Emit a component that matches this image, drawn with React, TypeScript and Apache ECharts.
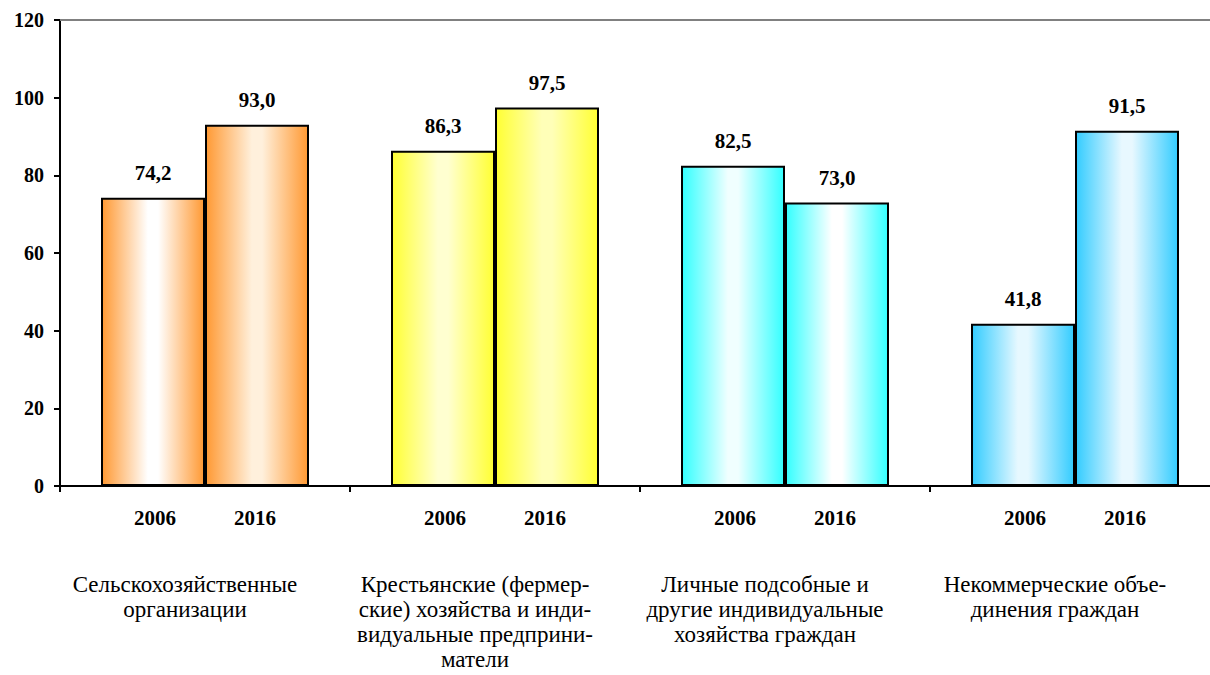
import React, { useEffect, useRef } from "react";
import * as echarts from "echarts";

const categories = [
  "Сельскохозяйственные\nорганизации",
  "Крестьянские (фермер-\nские) хозяйства и инди-\nвидуальные предприни-\nматели",
  "Личные подсобные и\nдругие индивидуальные\nхозяйства граждан",
  "Некоммерческие объе-\nдинения граждан",
];
const years = ["2006", "2016"];
const values2006 = [74.2, 86.3, 82.5, 41.8];
const values2016 = [93.0, 97.5, 73.0, 91.5];
const yMin = 0;
const yMax = 120;
const yInterval = 20;

const edgeColors = ["#FF9933", "#FFFF33", "#33FFFF", "#33CCFF"];
const center2006 = ["#FFFFFF", "#FFFFD0", "#F0FFFF", "#E6F8FF"];
const center2016 = ["#FFF0DC", "#FFFFB8", "#FFFFFF", "#E8F8FF"];

const FONT = "Times New Roman";

function grad(edge: string, center: string) {
  return {
    type: "linear",
    x: 0,
    y: 0,
    x2: 1,
    y2: 0,
    colorStops: [
      { offset: 0, color: edge },
      { offset: 0.45, color: center },
      { offset: 0.55, color: center },
      { offset: 1, color: edge },
    ],
  };
}

function makeSeries(name: string, vals: number[], centers: string[], withMark: boolean) {
  const s: any = {
    name,
    type: "bar",
    xAxisIndex: 0,
    barWidth: 104,
    barGap: "0%",
    data: vals.map((v, i) => ({
      value: v,
      itemStyle: {
        color: grad(edgeColors[i], centers[i]),
        borderColor: "#000",
        borderWidth: 2,
      },
    })),
    label: {
      show: true,
      position: "top",
      distance: 14,
      fontFamily: FONT,
      fontWeight: "bold",
      fontSize: 21,
      color: "#000",
      formatter: (p: any) => p.value.toFixed(1).replace(".", ","),
    },
  };
  if (withMark) {
    s.markLine = {
      silent: true,
      symbol: "none",
      label: { show: false },
      lineStyle: { color: "#808080", width: 2, type: "solid" },
      data: [{ yAxis: yMax }],
    };
  }
  return s;
}

export default function App() {
  const ref = useRef<HTMLDivElement>(null);
  useEffect(() => {
    if (!ref.current) return;
    const chart = echarts.init(ref.current, null, { renderer: "svg" });
    chart.setOption({
      animation: false,
      backgroundColor: "#fff",
      textStyle: { fontFamily: FONT },
      grid: { left: 60, right: 20, top: 20, bottom: 189 },
      xAxis: [
        {
          type: "category",
          data: categories,
          position: "bottom",
          axisLine: { show: true, lineStyle: { color: "#000", width: 2 } },
          axisTick: { show: true, length: 6, lineStyle: { color: "#000", width: 2 } },
          axisLabel: {
            interval: 0,
            margin: 86,
            fontFamily: FONT,
            fontSize: 23,
            lineHeight: 25,
            color: "#000",
            padding: [0, 40, 0, 0],
          },
        },
        {
          type: "category",
          data: categories,
          position: "bottom",
          axisLine: { show: false },
          axisTick: { show: false },
          axisLabel: {
            interval: 0,
            margin: 21,
            formatter: () => `{a|${years[0]}}{b|${years[1]}}`,
            rich: {
              a: { width: 100, align: "center", fontFamily: FONT, fontWeight: "bold", fontSize: 21, color: "#000" },
              b: { width: 100, align: "center", fontFamily: FONT, fontWeight: "bold", fontSize: 21, color: "#000" },
            },
          },
        },
      ],
      yAxis: {
        type: "value",
        min: yMin,
        max: yMax,
        interval: yInterval,
        axisLine: { show: true, lineStyle: { color: "#000", width: 2 } },
        axisTick: { show: true, length: 6, lineStyle: { color: "#000", width: 2 } },
        splitLine: { show: false },
        axisLabel: {
          margin: 16,
          fontFamily: FONT,
          fontWeight: "bold",
          fontSize: 20,
          color: "#000",
        },
      },
      series: [
        makeSeries(years[0], values2006, center2006, true),
        makeSeries(years[1], values2016, center2016, false),
      ],
    });
    return () => chart.dispose();
  }, []);
  return (
    <div
      style={{
        position: "fixed",
        left: 0,
        top: 0,
        width: 1210,
        height: 675,
        overflow: "hidden",
        background: "#fff",
      }}
    >
      <div ref={ref} style={{ width: 1240, height: 675 }} />
    </div>
  );
}
